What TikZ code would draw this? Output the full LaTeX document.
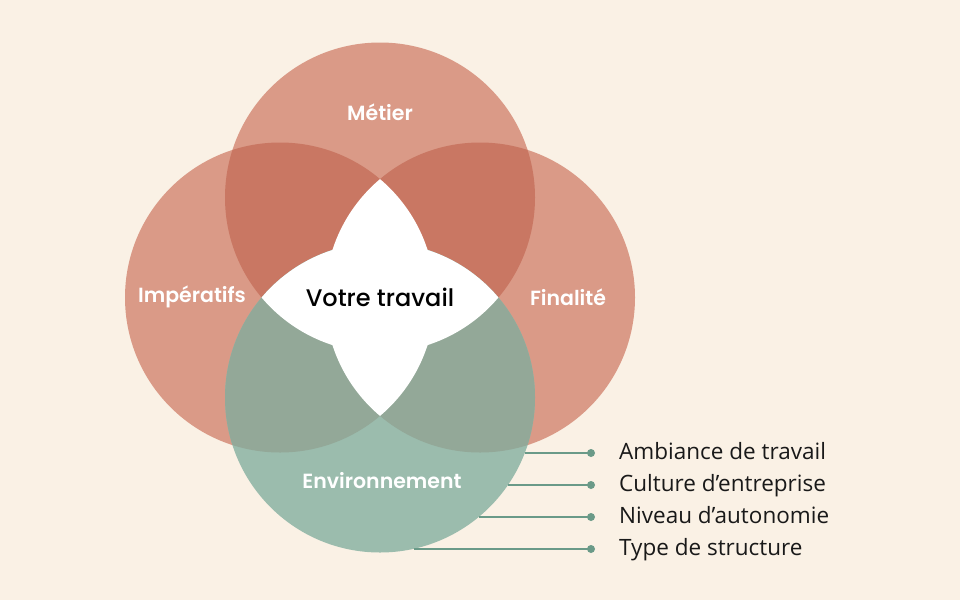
\documentclass[tikz,border=0pt]{standalone}
\usepackage{fontspec}
\setmainfont{Poppins}
\newfontfamily\popsemi{Poppins SemiBold}
\newfontfamily\popmed{Poppins Medium}
\newfontfamily\listfont{Open Sans}
\definecolor{bg}{HTML}{FAF1E5}
\definecolor{salmon}{HTML}{DA9A87}
\definecolor{darksalmon}{HTML}{C97763}
\definecolor{sage}{HTML}{9BBCAD}
\definecolor{greysage}{HTML}{93A898}
\definecolor{linegreen}{HTML}{6A9A88}
\begin{document}
\begin{tikzpicture}[x=1pt,y=-1pt,
  circlabel/.style={text=white,font=\popsemi\fontsize{20.5}{24}\selectfont,inner sep=0pt},
  center/.style={text=black,font=\popmed\fontsize{24}{28}\selectfont,inner sep=0pt},
  item/.style={text=black!90,font=\listfont\fontsize{22.5}{26}\selectfont,anchor=base west,inner sep=0pt},
  dotnode/.style={circle,fill=linegreen,minimum size=8pt,inner sep=0pt},
  connector/.style={draw=linegreen,line width=1.8pt}]
\fill[bg] (0,0) rectangle (960,600);
\useasboundingbox (0,0) rectangle (960,600);
\def\r{155}
\def\Lc{(280,297.5) circle (\r)}
\def\Rc{(480,297.5) circle (\r)}
\def\Tc{(380,197.5) circle (\r)}
\def\Bc{(380,397.5) circle (\r)}
% base red circles
\fill[salmon] \Lc;
\fill[salmon] \Rc;
\fill[salmon] \Tc;
\begin{scope}
  \clip \Tc;
  \fill[darksalmon] \Lc;
  \fill[darksalmon] \Rc;
\end{scope}
% green circle
\fill[sage] \Bc;
\begin{scope}
  \clip \Bc;
  \fill[greysage] \Lc;
  \fill[greysage] \Rc;
\end{scope}
% white core: regions inside at least three circles
\begin{scope}\clip \Lc; \clip \Rc; \fill[white] \Tc; \end{scope}
\begin{scope}\clip \Lc; \clip \Rc; \fill[white] \Bc; \end{scope}
\begin{scope}\clip \Tc; \clip \Bc; \fill[white] \Lc; \end{scope}
\begin{scope}\clip \Tc; \clip \Bc; \fill[white] \Rc; \end{scope}
% labels
\node[circlabel] (metier) at (380,112) {Métier};
\node[circlabel] (imp) at (192,297) {Impératifs};
\node[circlabel] (fin) at (568,297) {Finalité};
\node[circlabel] (env) at (382,481) {Environnement};
\node[center] (core) at (380,297) {Votre travail};
% connectors
\coordinate (s1) at (524.5,453);
\coordinate (s2) at (507.5,485);
\coordinate (s3) at (479,517);
\coordinate (s4) at (414,549);
\node[dotnode] (d1) at (591,453) {};
\node[dotnode] (d2) at (591,485) {};
\node[dotnode] (d3) at (591,517) {};
\node[dotnode] (d4) at (591,549) {};
\draw[connector] (s1) -- (d1.center);
\draw[connector] (s2) -- (d2.center);
\draw[connector] (s3) -- (d3.center);
\draw[connector] (s4) -- (d4.center);
\node[item] (i1) at (619,459) {Ambiance de travail};
\node[item] (i2) at (619,491) {Culture d’entreprise};
\node[item] (i3) at (619,523) {Niveau d’autonomie};
\node[item] (i4) at (619,555) {Type de structure};
\end{tikzpicture}
\end{document}
